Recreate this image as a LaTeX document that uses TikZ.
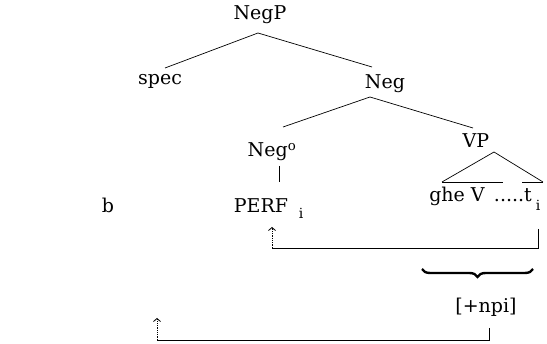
\documentclass[tikz,border=0pt]{standalone}
\usepackage{fontspec}
\setmainfont{DejaVu Serif}
\usetikzlibrary{arrows.meta,decorations.pathreplacing}

\begin{document}
\begin{tikzpicture}[
    x=1pt,y=-1pt,
    cat/.style={anchor=base,inner sep=2pt,font=\fontsize{19}{22}\selectfont},
    idx/.style={anchor=base,inner sep=2pt,font=\fontsize{14}{16}\selectfont},
    branch/.style={line width=0.7pt},
    trail/.style={line width=0.8pt},
    mover/.style={densely dotted,line width=0.8pt,-{Straight Barb[length=3pt,width=7pt]}}
  ]
    \useasboundingbox (0,0) rectangle (547,344);

    % labels of the tree
    \node[cat] (negp) at (260,20) {NegP};
    \node[cat] (spec) at (160,85) {spec};
    \node[cat] (neg) at (385,89) {Neg};
    \node[cat] (neg0) at (272,157) {Neg\textsuperscript{o}};
    \node[cat] (vp) at (476,148) {VP};
    \node[cat] (perf) at (261,213) {PERF};
    \node[idx] (perfi) at (301,219) {i};
    \node[cat] (ghe) at (457,202) {ghe V};
    \node[cat,anchor=base east] (trace) at (534,202) {.....t};
    \node[idx] (ti) at (538,211) {i};
    \node[cat] (ex) at (108,213) {b};
    \node[cat] (npi) at (486,313) {[+npi]};

    % branches
    \draw[branch] ([xshift=-2pt,yshift=-13pt]negp.base) -- ([xshift=5pt,yshift=17pt]spec.base);
    \draw[branch] ([xshift=-2pt,yshift=-13pt]negp.base) -- ([xshift=-13pt,yshift=22pt]neg.base);
    \draw[branch] ([xshift=-15pt,yshift=-8pt]neg.base) -- ([xshift=11pt,yshift=30pt]neg0.base);
    \draw[branch] ([xshift=-15pt,yshift=-8pt]neg.base) -- ([xshift=-3pt,yshift=20pt]vp.base);
    \draw[branch] ([xshift=7pt,yshift=-9pt]neg0.base) -- ([xshift=18pt,yshift=31pt]perf.base);

    % triangle over ghe V .....t
    \draw[branch] (442,182) -- (494,152) -- (543,182);
    \draw[branch] (442,182) -- (503,182);
    \draw[branch] (522,182) -- (543,182);

    % movement of PERF
    \coordinate (perfbase) at (272,248);
    \coordinate (perftip) at (272,227);
    \draw[trail,shorten <=18pt] (ti.base) |- (perfbase);
    \draw[mover] (perfbase) -- (perftip);

    % brace and [+npi]
    \draw[decorate,decoration={brace,mirror,amplitude=8pt},line width=2.4pt] (422,269) -- (533,269);
    \coordinate (npibase) at (157,340);
    \coordinate (npitip) at (157,318);
    \draw[trail,shorten <=15pt] ([xshift=3pt]npi.base) |- (npibase);
    \draw[mover] (npibase) -- (npitip);
\end{tikzpicture}
\end{document}
